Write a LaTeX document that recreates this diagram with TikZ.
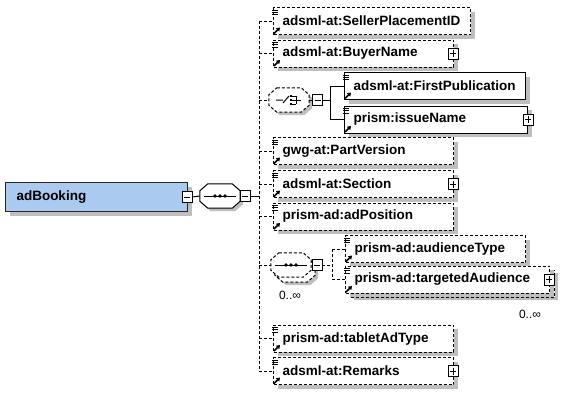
\documentclass[tikz,border=0pt]{standalone}
\usepackage{fontspec}
\setmainfont{Liberation Sans}
\usetikzlibrary{calc,shadows,arrows.meta}
\definecolor{rootblue}{RGB}{170,202,240}
\definecolor{shade}{RGB}{190,190,190}
\newcommand\myoct[4]{%
  \draw[#1] ($(#2.north west)+(8+#3,0+#4)$) -- ($(#2.north east)+(-8+#3,0+#4)$)
    -- ($(#2.north east)+(0+#3,7+#4)$) -- ($(#2.south east)+(0+#3,-7+#4)$)
    -- ($(#2.south east)+(-8+#3,0+#4)$) -- ($(#2.south west)+(8+#3,0+#4)$)
    -- ($(#2.south west)+(0+#3,-7+#4)$) -- ($(#2.north west)+(0+#3,7+#4)$) -- cycle;}
\begin{document}
\begin{tikzpicture}[x=1pt,y=-1pt,
  lbl/.style={font=\fontsize{13.5}{16}\selectfont\bfseries},
  elem/.style={lbl, draw=black, line width=1pt, dash pattern=on 3pt off 2pt, fill=white,
    anchor=north west, minimum height=27pt, inner xsep=9pt, inner ysep=0pt, align=left,
    drop shadow={shadow xshift=4pt, shadow yshift=-4pt, fill=shade, opacity=1}},
  reqelem/.style={elem, solid},
  backbox/.style={draw=black, line width=1pt, dash pattern=on 3pt off 2pt, fill=white,
    anchor=north west, minimum height=27pt, inner sep=0pt,
    drop shadow={shadow xshift=3pt, shadow yshift=-3pt, fill=shade, opacity=1}},
  comp/.style={draw=none, minimum width=40pt, minimum height=24pt, inner sep=0pt},
  pmbox/.style={draw=black, fill=white, line width=0.9pt, minimum width=10pt, minimum height=11pt, inner sep=0pt},
  minus/.style={pmbox, path picture={\draw[line width=0.9pt] ([xshift=2pt]path picture bounding box.west) -- ([xshift=-2pt]path picture bounding box.east);}},
  plus/.style={pmbox, path picture={\draw[line width=0.9pt] ([xshift=2pt]path picture bounding box.west) -- ([xshift=-2pt]path picture bounding box.east)
      ([yshift=-2pt]path picture bounding box.north) -- ([yshift=2pt]path picture bounding box.south);}},
  conn/.style={line width=1pt},
  optconn/.style={line width=1pt, dash pattern=on 3pt off 2pt},
  mult/.style={font=\fontsize{12}{14}\selectfont, inner sep=0pt},
  icon/.style={line width=0.8pt},
  refarrow/.style={line width=1.5pt, -{Triangle[length=3.5pt,width=4.5pt]}}
]
\useasboundingbox (0,0) rectangle (585,400);

% root
\node[lbl, draw=black!85, line width=1pt, fill=rootblue, anchor=north west, minimum height=29pt,
  text width=160pt, inner xsep=11pt, inner ysep=0pt, align=left,
  drop shadow={shadow xshift=4pt, shadow yshift=-4pt, fill=shade, opacity=1}] (adb) at (5,182) {adBooking};
\node[minus] (adbm) at ([xshift=-1pt]adb.east) {};

% main sequence
\node[comp] (seq) at (220,196) {};
\myoct{fill=shade, draw=none}{seq}{3}{3}
\myoct{fill=white, draw=black, line width=1pt}{seq}{0}{0}
\draw[line width=1pt] ($(seq.west)+(4,0)$) -- ($(seq.east)+(-4,0)$);
\foreach \d in {-5,0,5} \fill ($(seq.center)+(\d,0)$) circle (1.8pt);
\node[minus] (seqm) at (245,196) {};
\draw[conn] (adbm.east) -- (seq.west);

\coordinate (bus) at (259,0);
\draw[conn] (seqm.east) -- (seqm.east -| bus);

% top-level children
\node[elem, text width=179pt] (spid) at (273,7) {adsml-at:SellerPlacementID};
\node[elem, text width=162pt] (buyer) at (273,39.5) {adsml-at:BuyerName};
\node[elem, text width=162pt] (pv) at (273,137) {gwg-at:PartVersion};
\node[elem, text width=162pt] (sec) at (273,170) {adsml-at:Section};
\node[elem, text width=162pt] (adp) at (273,202.5) {prism-ad:adPosition};
\node[elem, text width=162pt] (tab) at (273,324.5) {prism-ad:tabletAdType};
\node[elem, text width=162pt] (rem) at (273,357) {adsml-at:Remarks};

% choice
\node[comp] (ch) at (289,100) {};
\myoct{fill=shade, draw=none}{ch}{3}{3}
\myoct{fill=white, draw=black, line width=1pt, dash pattern=on 3pt off 2pt}{ch}{0}{0}
\draw[line width=1pt] ($(ch.center)+(-13,0)$) -- ($(ch.center)+(-6,0)$)
  ($(ch.center)+(-6,3)$) -- ($(ch.center)+(0,-4)$);
\foreach \d in {-4,0,4} {
  \fill ($(ch.center)+(0.8,\d-1.3)$) rectangle ($(ch.center)+(3.4,\d+1.3)$);
  \draw[line width=0.8pt] ($(ch.center)+(3,\d)$) -- ($(ch.center)+(7,\d)$);}
\draw[line width=0.8pt] ($(ch.center)+(7,-4)$) -- ($(ch.center)+(7,4)$)
  ($(ch.center)+(7,0)$) -- ($(ch.center)+(12,0)$);
\node[minus] (chm) at (317.5,100) {};
\draw[conn] (ch.east) -- (chm.west);
\coordinate (cbus) at (330,0);
\node[reqelem, text width=163pt] (fp) at (344,72) {adsml-at:FirstPublication};
\node[reqelem, text width=165pt] (iss) at (344,105.5) {prism:issueName};
\draw[conn] (chm.east) -- (chm.east -| cbus);
\draw[conn] (fp.west -| cbus) -- (iss.west -| cbus);
\draw[conn] (fp.west -| cbus) -- (fp.west);
\draw[conn] (iss.west -| cbus) -- (iss.west);

% repeated sequence
\node[comp] (sq) at (291,265) {};
\myoct{fill=shade, draw=none}{sq}{7}{8}
\myoct{fill=white, draw=black, line width=1pt, dash pattern=on 3pt off 2pt}{sq}{4}{5}
\myoct{fill=white, draw=black, line width=1pt, dash pattern=on 3pt off 2pt}{sq}{0}{0}
\draw[line width=1pt] ($(sq.west)+(4,0)$) -- ($(sq.east)+(-4,0)$);
\foreach \d in {-5,0,5} \fill ($(sq.center)+(\d,0)$) circle (1.8pt);
\node[minus] (sqm) at (317,265) {};
\node[mult] (sqmult) at (290,295) {0..∞};
\coordinate (sbus) at (332,0);
\node[elem, text width=162pt] (aud) at (345,235) {prism-ad:audienceType};
\node[backbox, minimum width=204pt] (ta2) at (350,269.5) {};
\node[elem, text width=186pt] (ta) at (345,265.5) {prism-ad:targetedAudience};
\node[mult] (tamult) at (530,314) {0..∞};
\draw[optconn] (sqm.east) -- (sqm.east -| sbus);
\draw[optconn] (aud.west -| sbus) -- (ta.west -| sbus);
\draw[optconn] (aud.west -| sbus) -- (aud.west);
\draw[optconn] (ta.west -| sbus) -- (ta.west);

% bus and stubs
\draw[optconn] (spid.west -| bus) -- (rem.west -| bus);
\foreach \n in {spid,buyer,pv,sec,adp,tab,rem}
  \draw[optconn] (\n.west -| bus) -- (\n.west);
\draw[optconn] (ch.west -| bus) -- (ch.west);
\draw[optconn] (sq.west -| bus) -- (sq.west);

% plus icons
\node[plus] (buyerp) at ([xshift=-1pt]buyer.east) {};
\node[plus] (issp) at (iss.east) {};
\node[plus] (secp) at ([xshift=-1pt]sec.east) {};
\node[plus] (remp) at ([xshift=-1pt]rem.east) {};
\node[plus] (tap) at ([xshift=-1pt]ta.east) {};

% element icons
\foreach \n in {spid,buyer,fp,iss,pv,sec,adp,aud,ta,tab,rem} {
  \draw[icon] ($(\n.north west)+(-1,3)$) -- +(6,0)
              ($(\n.north west)+(-1,5.2)$) -- +(6,0)
              ($(\n.north west)+(-1,7.4)$) -- +(6,0);
  \draw[refarrow] ($(\n.south west)+(1,-1.5)$) -- +(6,-6);
}
\end{tikzpicture}
\end{document}
